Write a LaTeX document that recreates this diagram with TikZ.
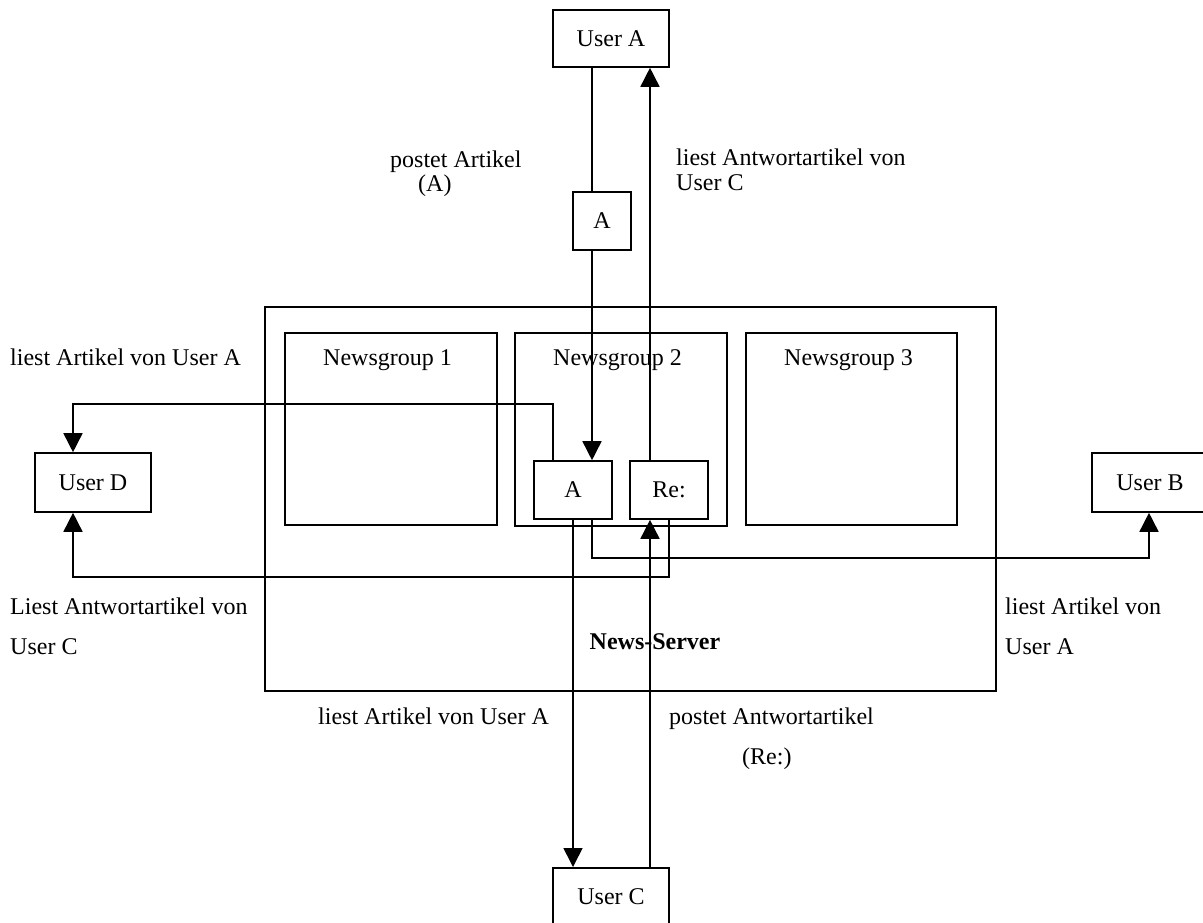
\documentclass[tikz,border=0pt]{standalone}
\usepackage{fontspec}
\setmainfont{Liberation Serif}
\usetikzlibrary{arrows.meta,calc}
\begin{document}
\begin{tikzpicture}[x=1pt,y=-1pt,
  box/.style={draw,line width=1.6pt,inner sep=0pt,minimum width=#1,font=\fontsize{24}{28}\selectfont},
  box/.default=116pt,
  lbl/.style={anchor=base west,inner sep=0pt,font=\fontsize{24}{28}\selectfont},
  ln/.style={line width=1.6pt},
  arr/.style={line width=1.6pt,-{Triangle[width=19pt,length=19pt]}}]
\useasboundingbox (0,0) rectangle (1203,922);
% boxes
\node[box,minimum height=384pt,minimum width=731pt] (server) at (630.5,499) {};
\node[box,minimum height=192pt,minimum width=212pt] (ng1) at (391,429) {};
\node[box,minimum height=193pt,minimum width=212pt] (ng2) at (621,429.5) {};
\node[box,minimum height=192pt,minimum width=211pt] (ng3) at (851.5,429) {};
\node[box=116pt,minimum height=57pt] (userA) at (611,38.5) {User A};
\node[box=58pt,minimum height=58pt] (postA) at (602,221) {A};
\node[box=78pt,minimum height=58pt] (artA) at (573,490) {A};
\node[box=78pt,minimum height=58pt] (artRe) at (669,490) {Re:};
\node[box=116pt,minimum height=59pt] (userD) at (93,482.5) {User D};
\node[box=116pt,minimum height=59pt] (userB) at (1150,482.5) {User B};
\node[box=116pt,minimum height=58pt,anchor=north] (userC) at (611,867) {User C};
% lanes
\coordinate (L1) at (592,0);
\coordinate (L2) at (650,0);
\coordinate (L3) at (553,0);
\coordinate (L4) at (573,0);
\coordinate (L5) at (669,0);
\coordinate (XD) at (73,0);
\coordinate (XB) at (1149,0);
\coordinate (H1) at (0,404);
\coordinate (H2) at (0,577);
\coordinate (H3) at (0,558);
% connectors
\draw[ln] (userA.south -| L1) -- (postA.north -| L1);
\draw[arr] (postA.south -| L1) -- (artA.north -| L1);
\draw[arr] (artRe.north -| L2) -- (userA.south -| L2);
\draw[arr] (artA.north -| L3) -- (L3 |- H1) -- (XD |- H1) -- (userD.north -| XD);
\draw[arr] (artRe.south -| L5) -- (L5 |- H2) -- (XD |- H2) -- (userD.south -| XD);
\draw[arr] (artA.south -| L1) -- (L1 |- H3) -- (XB |- H3) -- (userB.south -| XB);
\draw[arr] (artA.south -| L4) -- (userC.north -| L4);
\draw[arr] (userC.north -| L2) -- (artRe.south -| L2);
% labels
\node[lbl] (t1) at (390,167) {postet Artikel};
\node[lbl] (t2) at (418,191) {(A)};
\node[lbl] (t3) at (676,165) {liest Antwortartikel von};
\node[lbl] (t4) at (676,190) {User C};
\node[lbl] (t5) at (10,365) {liest Artikel von User A};
\node[lbl] (n1) at (323,365) {Newsgroup 1};
\node[lbl] (n2) at (553,365) {Newsgroup 2};
\node[lbl] (n3) at (784,365) {Newsgroup 3};
\node[lbl] (t6) at (10,614) {Liest Antwortartikel von};
\node[lbl] (t7) at (10,654) {User C};
\node[lbl,font=\fontsize{24}{28}\selectfont\bfseries,anchor=base] (srv) at (655,649) {News-Server};
\node[lbl] (t8) at (1005,614) {liest Artikel von};
\node[lbl] (t9) at (1005,654) {User A};
\node[lbl] (t10) at (318,724) {liest Artikel von User A};
\node[lbl] (t11) at (669,724) {postet Antwortartikel};
\node[lbl] (t12) at (742,764) {(Re:)};
\end{tikzpicture}
\end{document}
